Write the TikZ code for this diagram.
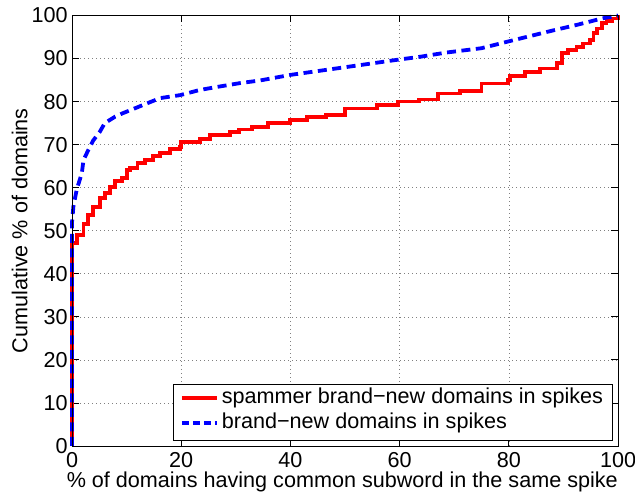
\documentclass[tikz,border=0pt]{standalone}
\usepackage{fontspec}
\setmainfont{Liberation Sans}
\usepackage{tikz}
\usetikzlibrary{arrows.meta}
\usepackage{xcolor}

\begin{document}
\begin{tikzpicture}[x=5.46pt,y=4.305pt,
		font=\fontsize{21.6}{24}\selectfont,
		gridline/.style={gray,line width=0.6pt,dash pattern=on 0.8pt off 3.2pt},
		spamcurve/.style={red,line width=3.8pt},
		newcurve/.style={blue,line width=3.8pt,dash pattern=on 9pt off 5.5pt}]
		
		% Bounding box (margins of the figure)
		\useasboundingbox (-13.19,-11.85) rectangle (103.11,103.6);
		
		% Parameters
		\def\tl{1.25} % tick length along x (data units)
		\def\tly{1.5} % tick length along y (data units)
		
		% Grid
		\foreach \gx in {20,40,60,80}
		\draw[gridline] (\gx,0) -- (\gx,100);
		\foreach \gy in {10,20,...,90}
		\draw[gridline] (0,\gy) -- (100,\gy);
		
		% Ticks and tick labels
		\foreach \gx in {0,20,...,100}{
			\draw[line width=0.8pt] (\gx,0) -- (\gx,\tly);
			\draw[line width=0.8pt] (\gx,100) -- (\gx,100-\tly);
			\node[anchor=base] (xt\gx) at (\gx,-5.05) {\gx};
		}
		\foreach \gy in {0,10,...,100}{
			\draw[line width=0.8pt] (0,\gy) -- (\tl,\gy);
			\draw[line width=0.8pt] (100,\gy) -- (100-\tl,\gy);
			\node[anchor=east,inner sep=0pt] (yt\gy) at (-0.75,\gy) {\gy};
		}
		
		% Axis labels
		\node[anchor=base] (xlab) at (49.5,-9.75) {\% of domains having common subword in the same spike};
		\node[rotate=90] (ylab) at (-9.6,50) {Cumulative \% of domains};
		
		% Spammer brand-new domains (solid, stairs)
		\draw[spamcurve,line join=miter] plot[const plot] coordinates {
			(0,0) (0,47.2) (0.85,49) (2.1,51.6) (2.9,53.7) (3.9,55.6) (5.1,57.6)
			(6,58.8) (7,60.2) (7.9,61.5) (9.1,62.2) (10,64.1) (10.6,64.6) (12,65.7)
			(13.4,66.4) (14.8,67.4) (16.1,68.1) (17.9,69) (19.8,69.5) (20,70.7)
			(23.4,71.3) (25.3,72.2) (28.9,73) (30.6,73.5) (33,74.1) (35.9,75)
			(39.9,75.7) (43,76.5) (46.5,76.9) (50,78.4) (55.8,79.2) (59.7,80)
			(63.5,80.5) (67,81.9) (71,82.5) (75,84.2) (79.9,85) (80.2,86) (83,86.9)
			(85.7,87.7) (88.8,88.9) (89.7,91.2) (90.8,92) (92.4,92.7) (93.6,93.5)
			(94.9,94.3) (95.5,95.9) (96.1,97) (97,98.2) (97.9,98.8) (99,99.3) (100,100)};
		
		% All brand-new domains (dashed)
		\draw[newcurve] plot coordinates {
			(0,0) (0,52) (0.25,55.6) (0.85,59.5) (1.8,63.4) (2.1,66.4) (3,68.8)
			(3.9,71) (5.1,73) (6,75) (7.9,76.5) (9.3,77.3) (13,79.2) (16.1,80.8)
			(19.8,81.5) (23.4,82.7) (27,83.5) (30.8,84.3) (34.4,84.9) (40,86.2)
			(47.3,87.5) (54,88.7) (59.5,89.7) (63.7,90.4) (68.6,91.4) (75,92.4)
			(80,94) (88,96.5) (92.4,97.8) (94.9,98.6) (97,99.3) (100,100)};
		
		% Box
		\draw[line width=0.9pt] (0,0) rectangle (100,100);
		
		% Legend
		\draw[line width=0.9pt,fill=white] (18.5,1.4) rectangle (98.9,14.4);
		\coordinate (ra) at (20.1,11.15);
		\coordinate (rb) at (26.5,11.15);
		\coordinate (ba) at (20.1,5.34);
		\coordinate (bb) at (26.5,5.34);
		\draw[spamcurve] (ra) -- (rb);
		\draw[newcurve,dash pattern=on 7pt off 4pt] (ba) -- (bb);
		\node[anchor=west,inner sep=0pt] (spamtxt) at (27.4,11.15) {spammer brand\textminus new domains in spikes};
		\node[anchor=west,inner sep=0pt] (newtxt) at (27.4,5.34) {brand\textminus new domains in spikes};
		
	\end{tikzpicture}
\end{document}
